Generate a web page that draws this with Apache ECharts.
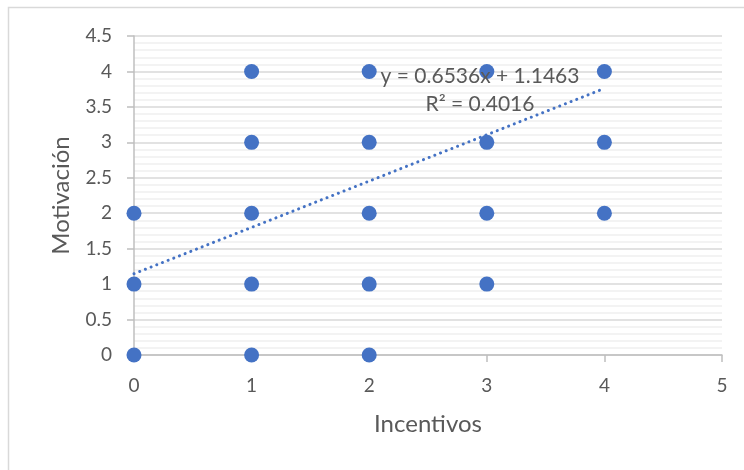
<!DOCTYPE html>
<html>
<head>
<meta charset="utf-8">
<script src="https://cdn.jsdelivr.net/npm/echarts@6/dist/echarts.min.js"></script>
<style>
html,body{margin:0;padding:0;background:#fff;}
#c{width:744px;height:470px;}
</style>
</head>
<body>
<div id="c"></div>
<script>
const incentivos = [0,0,0, 1,1,1,1,1, 2,2,2,2,2, 3,3,3,3, 4,4,4];
const motivacion = [0,1,2, 0,1,2,3,4, 0,1,2,3,4, 1,2,3,4, 2,3,4];
const trendSlope = 0.6536;
const trendIntercept = 1.1463;
const trendR2 = 0.4016;
const trendRange = [0, 4];
const yTicks = ['0','0.5','1','1.5','2','2.5','3','3.5','4','4.5'];

const pts = incentivos.map((x,i)=>[x, motivacion[i]]);
const trend = trendRange.map(x=>[x, trendSlope*x + trendIntercept]);
const font = 'Lato, "Liberation Sans", sans-serif';
const txt = '#595959';

const chart = echarts.init(document.getElementById('c'));
chart.setOption({
  animation:false,
  backgroundColor:'#fff',
  grid:{left:134,right:22,top:36,bottom:115,containLabel:false},
  xAxis:{
    type:'value',min:0,max:5,interval:1,
    name:'Incentivos',nameLocation:'middle',nameGap:57,
    nameTextStyle:{fontFamily:font,fontSize:24,color:txt},
    axisLine:{show:true,lineStyle:{color:'#bfbfbf',width:1.5}},
    axisTick:{show:true,length:7,lineStyle:{color:'#bfbfbf',width:1.5}},
    axisLabel:{fontFamily:font,fontSize:19,color:txt,margin:21},
    splitLine:{show:false}
  },
  yAxis:{
    type:'value',min:0,max:4.5,interval:0.5,
    name:'Motivación',nameLocation:'middle',nameGap:61,
    nameTextStyle:{fontFamily:font,fontSize:24,color:txt},
    axisLine:{show:true,lineStyle:{color:'#bfbfbf',width:1.5}},
    axisTick:{show:true,length:7,lineStyle:{color:'#bfbfbf',width:1.5}},
    axisLabel:{fontFamily:font,fontSize:19,color:txt,margin:22,
      formatter:(v)=>{const i=Math.round(v*2);return yTicks[i]!==undefined?yTicks[i]:v;}},
    splitLine:{show:true,lineStyle:{color:'#d9d9d9',width:1.5}},
    minorTick:{show:false,splitNumber:5},
    minorSplitLine:{show:true,lineStyle:{color:'#efefef',width:1.5}}
  },
  graphic:[
    {type:'rect',shape:{x:8.5,y:7.5,width:760,height:480},style:{fill:'none',stroke:'#d9d9d9',lineWidth:1.5},silent:true,z:-10},
    {type:'text',x:480,y:76,style:{text:'y = 0.6536x + 1.1463',fontFamily:font,fontSize:21,fill:txt,align:'center',verticalAlign:'middle'},z:100},
    {type:'text',x:480,y:104,style:{text:'R\u00b2 = '+trendR2.toFixed(4),fontFamily:font,fontSize:21,fill:txt,align:'center',verticalAlign:'middle'},z:100}
  ],
  series:[
    {type:'scatter',data:pts,symbolSize:15,itemStyle:{color:'#4472C4',opacity:1},z:3},
    {type:'line',data:trend,symbol:'none',silent:true,z:4,
      lineStyle:{color:'#4472C4',width:3,type:[0.1,6],cap:'round'}}
  ]
});
</script>
</body>
</html>
